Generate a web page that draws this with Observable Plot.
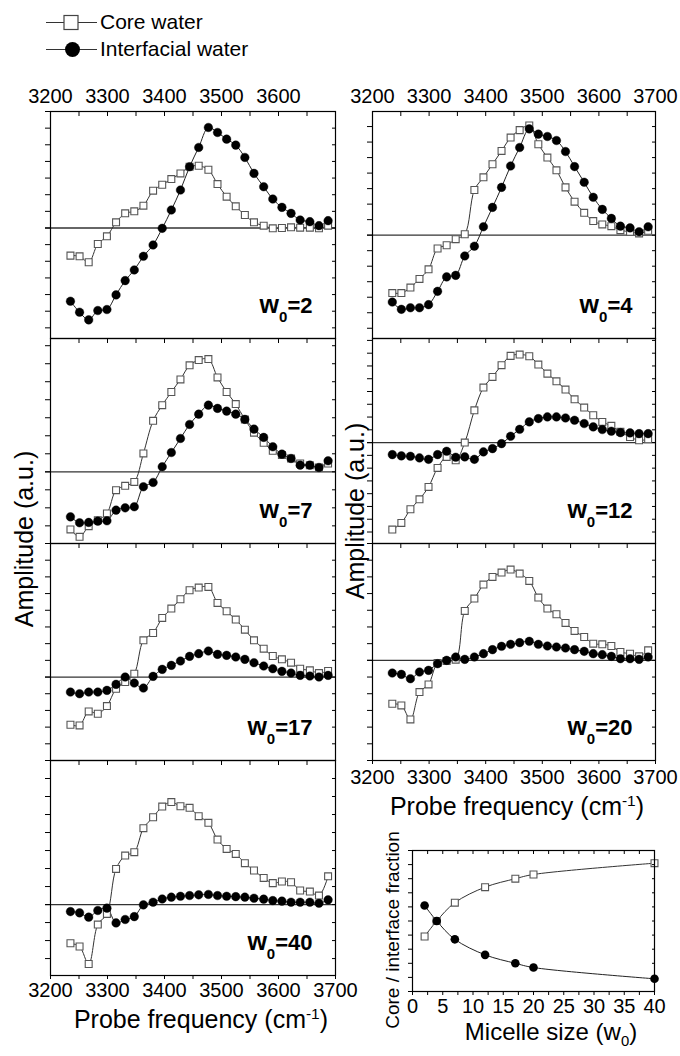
<!DOCTYPE html>
<html><head><meta charset="utf-8">
<script src="https://cdn.jsdelivr.net/npm/d3@7"></script>
<script src="https://cdn.jsdelivr.net/npm/@observablehq/plot@0.6"></script>
<style>
body{margin:0;background:#fff;font-family:"Liberation Sans",Arial,sans-serif;}
#root{position:relative;width:680px;height:1056px;overflow:hidden;background:#fff;}
.abs{position:absolute;white-space:nowrap;line-height:1;color:#000;}
.ctr{transform:translateX(-50%);}
.rot{transform:translate(-50%,-50%) rotate(-90deg);}
.sup{position:relative;top:-0.55em;font-size:0.62em;}
.sub{position:relative;top:0.38em;font-size:0.62em;}
</style></head><body><div id="root"></div>
<script>
// Probe frequencies (cm-1) of the measured points
const freq = [3235,3251,3267,3283,3299,3315,3331,3347,3363,3380,3396,3412,3428,3444,3460,3477,3493,3509,3525,3541,3557,3574,3590,3606,3622,3638,3655,3671,3687];

// Amplitudes (a.u.) per micelle size
const core2  = [-1.66,-1.70,-2.06,-0.96,-0.50,0.34,0.88,1.00,1.34,2.24,2.60,2.94,3.28,3.68,3.74,3.50,2.64,1.88,1.30,0.78,0.34,0.14,-0.02,0.00,0.04,0.02,0.02,-0.02,0.14];
const inter2 = [-4.40,-5.06,-5.52,-4.96,-4.90,-4.02,-3.16,-2.52,-1.70,-1.02,-0.02,1.08,2.28,3.68,4.84,6.04,5.74,5.34,4.98,4.24,3.28,2.48,1.74,1.24,0.88,0.48,0.38,0.14,0.44];
const core4  = [-3.73,-3.73,-3.38,-2.82,-2.20,-0.86,-0.65,-0.26,0.06,2.91,3.73,4.57,5.43,6.29,6.77,7.07,5.86,5.00,4.18,3.08,2.16,1.44,0.91,0.69,0.58,0.32,0.22,0.11,0.28];
const inter4 = [-4.31,-4.78,-4.68,-4.68,-4.48,-3.62,-2.69,-2.59,-1.34,-0.71,0.54,1.79,3.08,4.46,5.65,6.85,6.51,6.36,6.10,5.39,4.42,3.41,2.44,1.66,1.08,0.58,0.47,0.22,0.54];
const core7  = [-3.20,-3.61,-3.02,-2.69,-2.31,-1.02,-0.78,-0.56,1.02,2.83,3.70,4.43,5.13,5.91,6.20,6.26,5.24,4.43,3.76,2.91,2.17,1.61,1.17,0.93,0.74,0.46,0.37,0.24,0.46];
const inter7 = [-2.50,-2.83,-2.81,-2.74,-2.72,-2.13,-2.00,-1.94,-0.83,-0.59,0.28,1.07,1.85,2.63,3.20,3.70,3.52,3.37,3.20,2.91,2.37,1.91,1.39,0.98,0.74,0.37,0.37,0.24,0.61];
const core12  = [-6.81,-6.29,-5.22,-4.44,-3.47,-1.98,-1.12,-1.38,0.00,2.53,4.31,5.14,6.06,6.79,6.89,6.76,6.11,5.40,4.80,4.15,3.39,2.74,2.14,1.62,1.31,0.84,0.44,0.18,0.26];
const inter12 = [-0.94,-1.04,-1.07,-1.20,-1.31,-0.94,-0.68,-1.15,-1.12,-1.31,-0.73,-0.47,-0.08,0.50,1.04,1.62,1.88,2.01,2.01,1.93,1.75,1.49,1.23,1.02,0.89,0.78,0.76,0.70,0.70];
const core17  = [-2.86,-2.90,-2.06,-2.20,-1.74,-0.70,-0.30,0.20,2.20,2.64,3.54,4.10,4.66,5.20,5.36,5.40,4.44,3.94,3.44,2.84,2.20,1.70,1.26,1.06,0.86,0.50,0.40,0.24,0.36];
const inter17 = [-0.90,-1.00,-0.90,-0.90,-0.80,-0.44,0.00,-0.36,-0.66,0.04,0.46,0.70,0.96,1.24,1.40,1.56,1.36,1.30,1.20,1.06,0.86,0.66,0.50,0.34,0.24,0.10,0.06,0.00,0.10];
const core20  = [-2.60,-2.70,-3.54,-1.90,-1.44,-0.16,-0.04,0.04,2.96,3.70,4.54,5.00,5.26,5.44,5.20,4.76,3.76,3.10,2.76,2.24,1.76,1.40,1.00,0.96,0.86,0.50,0.40,0.24,0.60];
const inter20 = [-0.76,-0.84,-1.10,-0.70,-0.60,-0.20,0.00,0.20,0.06,0.20,0.40,0.64,0.84,0.96,1.06,1.14,0.96,0.86,0.80,0.74,0.64,0.54,0.40,0.34,0.24,0.10,0.10,0.06,0.20];
const core40  = [-2.15,-2.33,-3.30,-1.11,-0.52,1.98,2.72,2.91,4.24,4.85,5.44,5.69,5.46,5.37,4.91,4.54,3.61,3.09,2.81,2.30,1.89,1.48,1.19,1.28,1.24,0.78,0.72,0.50,1.57];
const inter40 = [-0.39,-0.46,-0.70,-0.33,-0.20,-1.02,-0.83,-0.67,-0.02,0.13,0.31,0.41,0.46,0.50,0.54,0.56,0.50,0.46,0.44,0.41,0.35,0.30,0.22,0.19,0.13,0.13,0.13,0.07,0.26];

// Core / interface fractions vs micelle size
const sizes = [2,4,7,12,17,20,40];
const coreFrac  = [0.39,0.50,0.63,0.74,0.80,0.83,0.91];
const interFrac = [0.61,0.50,0.37,0.26,0.20,0.17,0.09];

// Tick labels
const freqLabelsFull = [3200,3300,3400,3500,3600,3700];
const freqLabelsShort = [3200,3300,3400,3500,3600];
const sizeLabels = [0,5,10,15,20,25,30,35,40];

const FONT = '"Liberation Sans", Arial, Helvetica, sans-serif';
const root = document.getElementById("root");
const M = 30;

function place(node, left, top) {
  const d = document.createElement("div");
  d.style.position = "absolute";
  d.style.left = left + "px";
  d.style.top = top + "px";
  d.appendChild(node);
  root.appendChild(d);
}
function html(str, cls, left, top, size, extra) {
  const d = document.createElement("div");
  d.className = "abs " + cls;
  d.style.left = left + "px";
  d.style.top = top + "px";
  d.style.fontSize = size + "px";
  if (extra) Object.assign(d.style, extra);
  d.innerHTML = str;
  root.appendChild(d);
}

const panels = [
  {w:"2",  core:core2,  inter:inter2,  col:0, y0:111, y1:338, dom:[-6.64,7.0],  top:freqLabelsShort},
  {w:"7",  core:core7,  inter:inter7,  col:0, y0:338, y1:543, dom:[-3.98,7.4]},
  {w:"17", core:core17, inter:inter17, col:0, y0:543, y1:760, dom:[-5,8]},
  {w:"40", core:core40, inter:inter40, col:0, y0:760, y1:975, dom:[-3.94,8], bottom:freqLabelsFull, pad:7},
  {w:"4",  core:core4,  inter:inter4,  col:1, y0:111, y1:338, dom:[-6.66,7.97], top:freqLabelsFull},
  {w:"12", core:core12, inter:inter12, col:1, y0:338, y1:543, dom:[-7.9,8.15]},
  {w:"20", core:core20, inter:inter20, col:1, y0:543, y1:760, dom:[-6,7], bottom:freqLabelsFull, pad:9}
];

const plotStyle = {overflow:"visible", background:"transparent", fontFamily:FONT, color:"black", maxWidth:"none"};
const blank = () => "";

for (const p of panels) {
  const X0 = p.col ? 372 : 50, X1 = p.col ? 655 : 335;
  const rows = freq.map((f, i) => ({f, core:p.core[i], inter:p.inter[i]}));
  const yt = d3.range(Math.ceil(p.dom[0]), Math.floor(p.dom[1]) + 1);
  const xt = d3.range(3200, 3701, 50);
  const marks = [
    Plot.ruleY([0], {stroke:"#333", strokeWidth:1.3, insetLeft:-5}),
    Plot.line(rows, {x:"f", y:"core", curve:"catmull-rom", stroke:"#333", strokeWidth:1}),
    Plot.line(rows, {x:"f", y:"inter", curve:"catmull-rom", stroke:"#222", strokeWidth:1}),
    Plot.dot(rows, {x:"f", y:"core", symbol:"square", r:3.9, fill:"white", stroke:"#555", strokeWidth:1.1}),
    Plot.dot(rows, {x:"f", y:"inter", r:4.3, fill:"black", stroke:"black", strokeWidth:0.4}),
    Plot.axisY({anchor:"left", ticks:yt, tickSize:5, tickFormat:blank, label:null}),
    Plot.axisY({anchor:"right", ticks:yt, tickSize:-4, tickFormat:blank, label:null}),
    Plot.axisX({anchor:"top", ticks:xt, tickSize:-4, tickFormat:blank, label:null}),
    Plot.frame({stroke:"black", strokeWidth:1.2}),
    Plot.text([p.w], {text: d => "w0=" + d, frameAnchor:"bottom-right", textAnchor:"end", lineAnchor:"bottom", dx:-23, dy:-26, fontWeight:"bold", fontSize:22})
  ];
  if (p.top) marks.push(Plot.axisX({anchor:"top", ticks:p.top, tickSize:0, tickPadding:9, tickFormat:"d", fontSize:20, label:null}));
  if (p.bottom) marks.push(
    Plot.axisX({anchor:"bottom", ticks:xt, tickSize:4, tickFormat:blank, label:null}),
    Plot.axisX({anchor:"bottom", ticks:p.bottom, tickSize:0, tickPadding:p.pad, tickFormat:"d", fontSize:20, label:null})
  );
  const svg = Plot.plot({
    width: X1 - X0 + 2*M, height: p.y1 - p.y0 + 2*M, margin: M,
    x: {domain:[3200, 3700], label:null}, y: {domain:p.dom, label:null},
    style: plotStyle, marks
  });
  d3.select(svg).selectAll('g[aria-label="text"] text').each(function() {
    const t = d3.select(this);
    t.text(null);
    t.append("tspan").attr("font-size", 25).text("w");
    t.append("tspan").attr("font-size", 15).attr("dy", 9).text("0");
    t.append("tspan").attr("dy", -9).text("=" + p.w);
  });
  place(svg, X0 - M, p.y0 - M);
}

// Fraction panel
{
  const X0 = 412, X1 = 654, y0 = 850, y1 = 991;
  const rows = sizes.map((s, i) => ({s, core:coreFrac[i], inter:interFrac[i]}));
  const xt = d3.range(0, 40.01, 2.5);
  const yt = d3.range(0, 1.001, 0.1);
  const svg = Plot.plot({
    width: X1 - X0 + 2*M, height: y1 - y0 + 2*M, margin: M,
    x: {domain:[0, 40], label:null}, y: {domain:[0, 1], label:null},
    style: plotStyle,
    marks: [
      Plot.line(rows, {x:"s", y:"core", curve:"catmull-rom", stroke:"#333", strokeWidth:1}),
      Plot.line(rows, {x:"s", y:"inter", curve:"catmull-rom", stroke:"#222", strokeWidth:1}),
      Plot.dot(rows, {x:"s", y:"core", symbol:"square", r:3.9, fill:"white", stroke:"#555", strokeWidth:1.1}),
      Plot.dot(rows, {x:"s", y:"inter", r:4.3, fill:"black"}),
      Plot.axisY({anchor:"left", ticks:yt, tickSize:4, tickFormat:blank, label:null}),
      Plot.axisY({anchor:"right", ticks:yt, tickSize:-3, tickFormat:blank, label:null}),
      Plot.axisX({anchor:"top", ticks:xt, tickSize:-3, tickFormat:blank, label:null}),
      Plot.axisX({anchor:"bottom", ticks:xt, tickSize:4, tickFormat:blank, label:null}),
      Plot.axisX({anchor:"bottom", ticks:sizeLabels, tickSize:0, tickPadding:7, tickFormat:"d", fontSize:20, label:null}),
      Plot.frame({stroke:"black", strokeWidth:1.2})
    ]
  });
  place(svg, X0 - M, y0 - M);
}

// Legend
{
  const lg = d3.create("svg").attr("width", 260).attr("height", 62).style("overflow", "visible");
  lg.append("line").attr("x1", 46).attr("x2", 97).attr("y1", 22.5).attr("y2", 22.5).attr("stroke", "#333");
  lg.append("rect").attr("x", 64).attr("y", 15.5).attr("width", 14).attr("height", 14).attr("fill", "white").attr("stroke", "#444").attr("stroke-width", 1.2);
  lg.append("line").attr("x1", 46).attr("x2", 97).attr("y1", 49.5).attr("y2", 49.5).attr("stroke", "#333");
  lg.append("circle").attr("cx", 72.5).attr("cy", 49.5).attr("r", 7.5).attr("fill", "black");
  lg.append("text").attr("x", 100).attr("y", 29).attr("font-size", 21).attr("font-family", FONT).text("Core water");
  lg.append("text").attr("x", 100).attr("y", 56).attr("font-size", 21).attr("font-family", FONT).text("Interfacial water");
  place(lg.node(), 0, 0);
}

// Axis titles
html("Amplitude (a.u.)", "rot", 24, 539, 25);
html("Amplitude (a.u.)", "rot", 355, 511, 25);
html('Probe frequency (cm<span class="sup">-1</span>)', "ctr", 201, 1007, 25);
html('Probe frequency (cm<span class="sup">-1</span>)', "ctr", 517, 794, 25);
html('Micelle size (w<span class="sub">0</span>)', "ctr", 551, 1020, 24);
html("Core / interface fraction", "rot", 392, 930, 19);
</script></body></html>
